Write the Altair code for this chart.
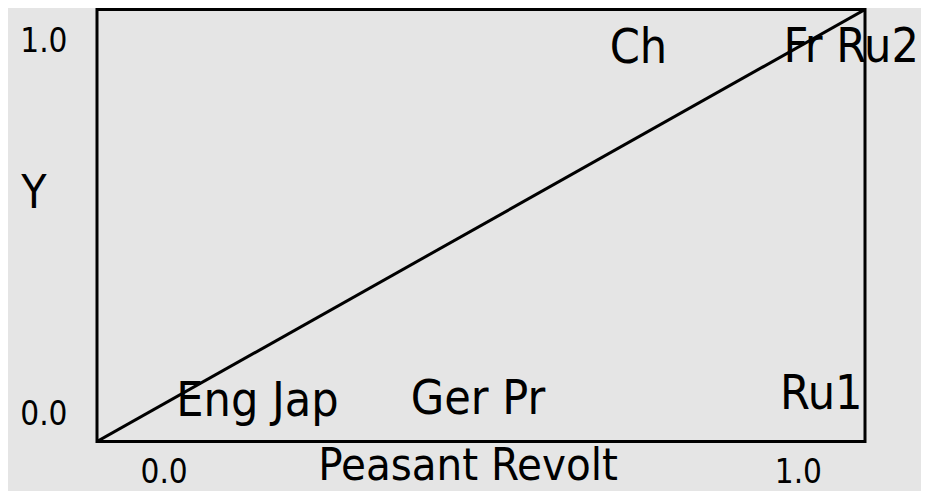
import altair as alt
import pandas as pd

# Case labels and their (fuzzy) scores
labels = ["Eng Jap", "Ger Pr", "Ru1", "Ch", "Fr Ru2"]
peasant_revolt = [0.209, 0.496, 0.943, 0.705, 0.982]
y_scores = [0.091, 0.096, 0.108, 0.909, 0.910]

# Diagonal reference line
diag_x = [0.0, 1.0]
diag_y = [0.0, 1.0]

# Axis tick values
tick_values = [0.0, 1.0]

FONT = "DejaVu Sans Condensed"
BG = "#e5e5e5"

pts = pd.DataFrame({"label": labels, "x": peasant_revolt, "y": y_scores})
diag = pd.DataFrame({"x": diag_x, "y": diag_y})

xscale = alt.Scale(domain=[0, 1], nice=False, zero=False)
yscale = alt.Scale(domain=[0, 1], nice=False, zero=False)

xaxis = alt.Axis(
    values=tick_values, format=".1f", ticks=False, tickSize=0, domain=False, grid=False,
    labelFont=FONT, labelFontSize=33, labelColor="black",
    labelBaseline="alphabetic", labelPadding=40.5,
    labelOffset={"condition": {"test": "datum.value < 0.5", "value": 43}, "value": -43.5},
    title="Peasant Revolt", titleFont=FONT, titleFontSize=45, titleFontWeight="normal",
    titleColor="black", titleAlign="center", titleBaseline="alphabetic",
    titleX=370.5, titleY=38, titleAnchor="start",
)
yaxis = alt.Axis(
    values=tick_values, format=".1f", ticks=False, tickSize=0, domain=False, grid=False,
    labelFont=FONT, labelFontSize=33, labelColor="black",
    labelBaseline="alphabetic", labelPadding=30, labelAlign="right",
    labelOffset={"condition": {"test": "datum.value > 0.5", "value": 41.5}, "value": -17.5},
    title="Y", titleFont=FONT, titleFontSize=46, titleFontWeight="normal",
    titleColor="black", titleAngle=0, titleAlign="center", titleBaseline="alphabetic",
    titleX=-63.5, titleY=197.5, titleAnchor="start",
)

line = alt.Chart(diag).mark_line(color="black", strokeWidth=3, clip=True).encode(
    x=alt.X("x:Q", scale=xscale, axis=xaxis),
    y=alt.Y("y:Q", scale=yscale, axis=yaxis),
)

text = alt.Chart(pts).mark_text(
    font=FONT, fontSize=48, color="black", align="center", baseline="middle"
).encode(
    x=alt.X("x:Q", scale=xscale),
    y=alt.Y("y:Q", scale=yscale),
    text="label:N",
)

chart = (
    alt.layer(line, text)
    .properties(
        width=768, height=432,
        autosize=alt.AutoSizeParams(type="none"),
        padding={"left": 89, "top": 1.5, "right": 56, "bottom": 49.5},
        background=BG,
    )
    .configure_view(stroke="black", strokeWidth=3, fill=BG)
)

chart.save("out.html", embed_options={"renderer": "svg", "actions": False})
